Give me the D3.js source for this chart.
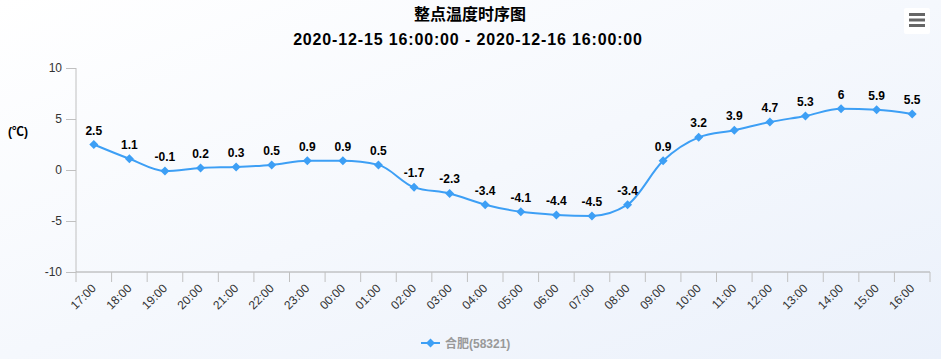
<!DOCTYPE html>
<html>
<head>
<meta charset="utf-8">
<script src="https://cdn.jsdelivr.net/npm/d3@7"></script>
<style>
  html, body { margin: 0; padding: 0; }
  body { width: 941px; height: 359px; overflow: hidden; }
  svg text { font-family: "Liberation Sans", "Noto Sans CJK SC", sans-serif; }
</style>
</head>
<body>
<svg id="chart" width="941" height="359"></svg>
<script>
// Donnees du graphique
const hours = ["17:00", "18:00", "19:00", "20:00", "21:00", "22:00", "23:00", "00:00",
    "01:00", "02:00", "03:00", "04:00", "05:00", "06:00", "07:00", "08:00",
    "09:00", "10:00", "11:00", "12:00", "13:00", "14:00", "15:00", "16:00"];
const temps = [2.5, 1.1, -0.1, 0.2, 0.3, 0.5, 0.9, 0.9, 0.5, -1.7, -2.3, -3.4,
    -4.1, -4.4, -4.5, -3.4, 0.9, 3.2, 3.9, 4.7, 5.3, 6, 5.9, 5.5];
const yTicks = [-10, -5, 0, 5, 10];
const titleText = "整点温度时序图";
const subtitleText = "2020-12-15 16:00:00 - 2020-12-16 16:00:00";
const seriesName = "合肥(58321)";

const svg = d3.select("#chart");
const width = 941, height = 359;
const plot = { left: 76, right: 930, top: 68, bottom: 272 };
const lineColor = "#3d9ff5";

// Fond degrade
const defs = svg.append("defs");
const grad = defs.append("linearGradient")
    .attr("id", "bg").attr("x1", "0").attr("y1", "0").attr("x2", "1").attr("y2", "1");
grad.append("stop").attr("offset", "0%").attr("stop-color", "#ffffff");
grad.append("stop").attr("offset", "100%").attr("stop-color", "#ebf1fb");
svg.append("rect").attr("width", width).attr("height", height).attr("fill", "url(#bg)");

// Titres
svg.append("text").attr("x", 470).attr("y", 20).attr("text-anchor", "middle")
    .attr("font-size", 16).attr("font-weight", "bold").attr("fill", "#000")
    .text(titleText);
svg.append("text").attr("x", 468).attr("y", 45).attr("text-anchor", "middle")
    .attr("font-size", 16).attr("font-weight", "bold").attr("fill", "#000")
    .attr("letter-spacing", 0.85)
    .text(subtitleText);

// Echelles
const x = d3.scaleBand().domain(hours).range([plot.left, plot.right]);
const y = d3.scaleLinear().domain([-10, 10]).range([plot.bottom, plot.top]);

// Axe Y (tirets simples comme dans l'original)
const yAxis = svg.append("g")
    .attr("transform", "translate(" + plot.left + ",0)")
    .call(d3.axisLeft(y).tickValues(yTicks).tickSize(10).tickPadding(4)
        .tickFormat(function(d) { return String(d); }));
yAxis.select(".domain").attr("stroke", "#c0c0c0").attr("d", "M0," + plot.top + "V" + plot.bottom);
yAxis.selectAll(".tick line").attr("stroke", "#c0c0c0");
yAxis.selectAll(".tick text").attr("font-size", 12).attr("fill", "#333");

svg.append("text").attr("x", 8).attr("y", 136)
    .attr("font-size", 12).attr("font-weight", "bold").attr("fill", "#000")
    .text("(℃)");

// Axe X : graduations aux limites des categories
const xAxisG = svg.append("g").attr("transform", "translate(0," + plot.bottom + ")");
xAxisG.append("line").attr("x1", plot.left).attr("x2", plot.right)
    .attr("stroke", "#a8a8a8");
const boundaries = hours.map(function(h) { return x(h); }).concat([plot.right]);
xAxisG.selectAll(".xtick").data(boundaries).enter().append("line")
    .attr("class", "xtick")
    .attr("x1", function(d) { return d; }).attr("x2", function(d) { return d; })
    .attr("y1", 0).attr("y2", 10)
    .attr("stroke", "#c0c0c0");
xAxisG.selectAll(".xlabel").data(hours).enter().append("text")
    .attr("class", "xlabel")
    .attr("transform", function(d) {
        return "translate(" + (x(d) + x.bandwidth() / 2 + 3) + ",17) rotate(-45)";
    })
    .attr("text-anchor", "end")
    .attr("font-size", 12).attr("fill", "#333")
    .text(function(d) { return d; });

// Courbe
const points = hours.map(function(h, i) {
    return { x: x(h) + x.bandwidth() / 2, y: y(temps[i]), v: temps[i] };
});
const line = d3.line()
    .x(function(d) { return d.x; })
    .y(function(d) { return d.y; })
    .curve(d3.curveMonotoneX);
svg.append("path").datum(points)
    .attr("d", line)
    .attr("fill", "none").attr("stroke", lineColor).attr("stroke-width", 2);

// Marqueurs losange
const diamond = "M0,-4.5L4.5,0L0,4.5L-4.5,0Z";
svg.selectAll(".marker").data(points).enter().append("path")
    .attr("class", "marker")
    .attr("transform", function(d) { return "translate(" + d.x + "," + d.y + ")"; })
    .attr("d", diamond).attr("fill", lineColor);

// Etiquettes de valeurs
svg.selectAll(".dlabel").data(points).enter().append("text")
    .attr("class", "dlabel")
    .attr("x", function(d) { return d.x; })
    .attr("y", function(d) { return d.y - 10; })
    .attr("text-anchor", "middle")
    .attr("font-size", 12).attr("font-weight", "bold").attr("fill", "#000")
    .text(function(d) { return d.v; });

// Legende
const legend = svg.append("g").attr("transform", "translate(421,343)");
legend.append("line").attr("x1", 0).attr("x2", 19).attr("y1", 0).attr("y2", 0)
    .attr("stroke", lineColor).attr("stroke-width", 2);
legend.append("path").attr("transform", "translate(9.5,0)").attr("d", diamond).attr("fill", lineColor);
legend.append("text").attr("x", 24).attr("y", 4.5)
    .attr("font-size", 12).attr("font-weight", "bold").attr("fill", "#999")
    .text(seriesName);

// Bouton menu
const menu = svg.append("g").attr("transform", "translate(904,8)");
menu.append("rect").attr("width", 26).attr("height", 26).attr("rx", 2)
    .attr("fill", "#fff");
[6.5, 12, 17.5].forEach(function(yy) {
    menu.append("line").attr("x1", 5).attr("x2", 21).attr("y1", yy).attr("y2", yy)
        .attr("stroke", "#666").attr("stroke-width", 3);
});
</script>
</body>
</html>
